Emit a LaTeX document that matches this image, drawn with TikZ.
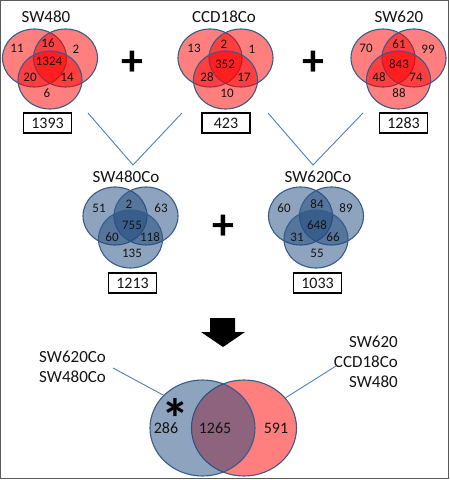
\documentclass[tikz,border=0pt]{standalone}
\usepackage{fontspec}
\setmainfont{Carlito}
\usetikzlibrary{shapes.geometric}
\definecolor{vred}{RGB}{255,0,0}
\definecolor{vblue}{RGB}{31,73,125}
\definecolor{vedge}{RGB}{56,93,138}
\definecolor{conblue}{RGB}{79,129,189}
\definecolor{framegray}{RGB}{90,90,90}
\definecolor{txt}{RGB}{20,20,20}
\tikzset{
 vset/.style={ellipse, draw=vedge, line width=1.1pt, fill opacity=0.5, minimum width=64pt, minimum height=58pt, inner sep=0pt},
 redset/.style={vset, fill=vred},
 blueset/.style={vset, fill=vblue},
 num/.style={font=\fontsize{13}{15}\selectfont, text=txt, inner sep=0pt},
 settitle/.style={font=\fontsize{17}{20}\selectfont, text=txt, inner sep=0pt},
 totalbox/.style={draw=black, line width=1.1pt, minimum width=48pt, minimum height=20pt, inner sep=0pt, font=\fontsize{16}{18}\selectfont, text=txt},
 plussign/.style={font=\fontsize{44}{44}\selectfont\bfseries, inner sep=0pt},
 conn/.style={draw=conblue, line width=0.9pt},
 bigset/.style={ellipse, draw=vedge, line width=1.1pt, fill opacity=0.5, minimum width=105pt, minimum height=96pt, inner sep=0pt},
 bignum/.style={font=\fontsize{16}{18}\selectfont, text=txt, inner sep=0pt},
 sidelabel/.style={font=\fontsize{17}{20}\selectfont, text=txt, inner sep=0pt},
 astmark/.style={font=\fontsize{56}{56}\selectfont\bfseries, inner sep=0pt, anchor=base},
}
\newcommand\vennthree[5]{%
 \node[#5] (#1l) at (#2-15.5,#3) {};
 \node[#5] (#1r) at (#2+15.5,#3) {};
 \node[#5] (#1b) at (#2,#4) {};
}
\begin{document}
\begin{tikzpicture}[x=1pt,y=-1pt]
\useasboundingbox (0,0) rectangle (450,480);
\fill[white] (0,0) rectangle (450,480);
\draw[framegray, line width=1.2pt] (0.6,0.6) rectangle (448.4,478.2);

% ---- top row
\vennthree{a}{50}{58}{80}{redset}
\vennthree{c}{225.5}{58}{80}{redset}
\vennthree{s}{398.5}{58}{80}{redset}

\node[settitle] (ta) at (46,17) {SW480};
\node[settitle] (tc) at (224,17) {CCD18Co};
\node[settitle] (ts) at (399,17) {SW620};

\node[num] at (17,48) {11};
\node[num] at (48,43) {16};
\node[num] at (76,49) {2};
\node[num] at (49,61) {1324};
\node[num] at (30,77) {20};
\node[num] at (67,77) {14};
\node[num] at (47,93) {6};

\node[num] at (194,48) {13};
\node[num] at (224,44) {2};
\node[num] at (252,49) {1};
\node[num] at (225,64) {352};
\node[num] at (207,77) {28};
\node[num] at (244,77) {17};
\node[num] at (227,93) {10};

\node[num] at (366,48) {70};
\node[num] at (399,44) {61};
\node[num] at (428,49) {99};
\node[num] at (399,64) {843};
\node[num] at (379,77) {48};
\node[num] at (416,77) {74};
\node[num] at (399,93) {88};

\node[totalbox] (ba) at (47.5,123) {1393};
\node[totalbox] (bc) at (226,123) {423};
\node[totalbox] (bs) at (403.5,123) {1283};

\node[plussign] (p1) at (132.5,63) {+};
\node[plussign] (p2) at (313,63) {+};

% ---- connectors to middle row
\coordinate (v1a) at (88,113);
\coordinate (v1m) at (133,165);
\coordinate (v1b) at (182,113);
\coordinate (v2a) at (268,113);
\coordinate (v2m) at (313,165);
\coordinate (v2b) at (363,113);
\draw[conn] (v1a) -- (v1m) -- (v1b);
\draw[conn] (v2a) -- (v2m) -- (v2b);

% ---- middle row
\vennthree{m}{130.5}{216}{239}{blueset}
\vennthree{n}{316}{216}{239}{blueset}

\node[settitle] (tm) at (126,177) {SW480Co};
\node[settitle] (tn) at (318,177) {SW620Co};

\node[num] at (99,208) {51};
\node[num] at (129,204) {2};
\node[num] at (161,208) {63};
\node[num] at (132,225) {755};
\node[num] at (112,237) {60};
\node[num] at (150,237) {118};
\node[num] at (132,253) {135};

\node[num] at (284,208) {60};
\node[num] at (317,204) {84};
\node[num] at (346,208) {89};
\node[num] at (317,225) {648};
\node[num] at (297,237) {31};
\node[num] at (333,237) {66};
\node[num] at (317,253) {55};

\node[totalbox] (bm) at (132.5,283) {1213};
\node[totalbox] (bn) at (317.5,283) {1033};

\node[plussign] (p3) at (223,227) {+};

% ---- big arrow
\fill[black] (210,318) -- (235,318) -- (235,332) -- (245,332) -- (223,347) -- (201,332) -- (210,332) -- cycle;

% ---- final Venn
\node[bigset, fill=vred] (R) at (244,428) {};
\node[bigset, fill=vblue] (L) at (202.5,428) {};

\node[bignum] at (166,428) {286};
\node[bignum] at (215,428) {1265};
\node[bignum] at (276,428) {591};
\node[astmark] (ast) at (175,438) {*};

\node[sidelabel, align=left, anchor=west] (ll) at (39,367) {SW620Co\\SW480Co};
\node[sidelabel, align=right, anchor=east] (rl) at (398,362) {SW620\\CCD18Co\\SW480};

\coordinate (llend) at (113,368);
\coordinate (rlend) at (336,366);
\draw[conn] (llend) -- (L.140);
\draw[conn] (rlend) -- (R.36);
\end{tikzpicture}
\end{document}
